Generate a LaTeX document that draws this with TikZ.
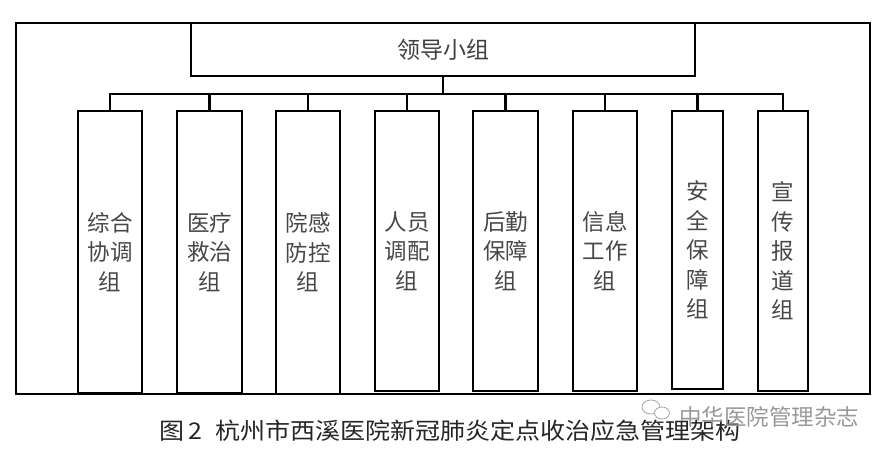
\documentclass[tikz,border=0pt]{standalone}
\usepackage{fontspec}
\newfontfamily\cjk{Noto Sans CJK SC}
\tikzset{
  every picture/.style={x=1pt,y=-1pt},
  frame/.style={draw=black, line width=2.1pt},
  lead/.style={frame, inner sep=0pt, outer sep=0pt, text=black!75,
    font={\cjk\fontsize{23}{27}\selectfont}},
  grp/.style={frame, inner sep=0pt, outer sep=0pt, text=black!72, align=center,
    font={\cjk\fontsize{22.5}{29.5}\selectfont}},
  link/.style={draw=black, line width=2.3pt},
  capt/.style={inner sep=0pt, text=black!85, font={\cjk\fontsize{23}{27}\selectfont}},
  wmark/.style={inner sep=0pt, text=black!40, font={\cjk\fontsize{22.5}{25}\selectfont}},
}
\begin{document}
\begin{tikzpicture}
\useasboundingbox (0,0) rectangle (886,456);
\fill[white] (0,0) rectangle (886,456);
% outer frame
\node[frame, inner sep=0pt, outer sep=0pt, minimum width=854pt, minimum height=371pt] (outer) at (443,208.5) {};
% leader
\node[lead, minimum width=504pt, minimum height=53pt] (lead) at (443,49.5) {领导小组};
% groups
\node[grp, minimum width=64pt, minimum height=282pt] (g1) at (110,252) {综合\\协调\\组};
\node[grp, minimum width=65pt, minimum height=282pt] (g2) at (209.5,252) {医疗\\救治\\组};
\node[grp, minimum width=64pt, minimum height=283pt] (g3) at (308,252.5) {院感\\防控\\组};
\node[grp, minimum width=64pt, minimum height=280pt] (g4) at (407,251) {人员\\调配\\组};
\node[grp, minimum width=65pt, minimum height=280pt] (g5) at (505.5,251) {后勤\\保障\\组};
\node[grp, minimum width=64pt, minimum height=280pt] (g6) at (605,251) {信息\\工作\\组};
\node[grp, minimum width=51pt, minimum height=278pt] (g7) at (697.5,250) {安\\全\\保\\障\\组};
\node[grp, minimum width=50pt, minimum height=280pt] (g8) at (783,251) {宣\\传\\报\\道\\组};
% bus
\coordinate (bus) at (443,94);
\draw[link] (lead.south) -- (lead.south |- bus);
\draw[link] (g1.north) -- (g1.north |- bus) -- (g8.north |- bus) -- (g8.north);
\foreach \g in {g2,g3,g4,g5,g6,g7}
  \draw[link] (\g.north) -- (\g.north |- bus);
% caption
\node[capt] (cap) at (450,431) {\scalebox{1.088}[1]{图\,2\; 杭州市西溪医院新冠肺炎定点收治应急管理架构}};
% watermark
\node[wmark, anchor=west] (wm) at (679,417) {中华医院管理杂志};
\draw[black!35, line width=0.8pt] (651,407) ellipse (9pt and 7pt);
\draw[black!35, line width=0.8pt, fill=white] (662,413) ellipse (7.5pt and 6pt);
\end{tikzpicture}
\end{document}
